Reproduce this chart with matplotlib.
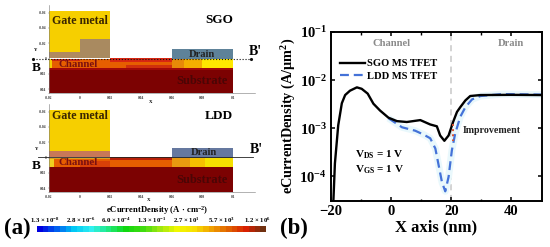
import numpy as np
import matplotlib
matplotlib.use("Agg")
import matplotlib.pyplot as plt
from matplotlib.patches import Rectangle
from matplotlib.colors import LinearSegmentedColormap, LogNorm
from matplotlib.ticker import NullLocator

plt.rcParams['font.family'] = 'Liberation Serif'
plt.rcParams['font.weight'] = 'bold'
plt.rcParams['axes.labelweight'] = 'bold'
plt.rcParams['mathtext.fontset'] = 'custom'
plt.rcParams['mathtext.rm'] = 'Liberation Serif:bold'
plt.rcParams['mathtext.it'] = 'Liberation Serif:bold'
plt.rcParams['mathtext.bf'] = 'Liberation Serif:bold'
plt.rcParams['mathtext.default'] = 'rm'

W, H = 550, 247

# Panel (b) data
x_sgo = [-19.2, -18.7, -17.6, -16.4, -15.3, -13.7, -11.4, -9.8, -7.8, -5.9, -3.7, -0.9, 1.9, 5.2, 9.7, 13,
         15.2, 16.3, 17.7, 19.1, 20.6, 21.9, 23, 24.7, 26.3, 29.7, 40, 50]
y_sgo = [3.16e-5, 1.86e-4, 1.15e-3, 3.31e-3, 4.9e-3, 6.03e-3, 7.08e-3, 6.61e-3, 5.25e-3, 3.24e-3, 2.34e-3,
         1.66e-3, 1.41e-3, 1.35e-3, 1.48e-3, 1.2e-3, 1.1e-3, 7.08e-4, 5.5e-4, 7.08e-4, 1.35e-3, 2.19e-3,
         2.75e-3, 3.8e-3, 4.68e-3, 4.9e-3, 4.95e-3, 4.9e-3]
x_ldd = [-0.9, 3.6, 8, 10.8, 13, 14.7, 15.8, 16.9, 18, 19.1, 20.2, 21.3, 23, 24.7, 26.9, 29.7, 36.9, 50]
y_ldd = [1.62e-3, 1.05e-3, 8.9e-4, 7.4e-4, 6.2e-4, 3.8e-4, 1.7e-4, 7.6e-5, 4.9e-5, 9.8e-5, 3.5e-4, 7.8e-4,
         1.74e-3, 2.75e-3, 3.98e-3, 4.68e-3, 5.13e-3, 5.01e-3]
x_ticks = [-20, 0, 20, 40]
x_minor = [-10, 10, 30]
y_ticks = [1e-4, 1e-3, 1e-2, 1e-1]
y_ticklabels = [r'10$^{-4}$', r'10$^{-3}$', r'10$^{-2}$', r'10$^{-1}$']
x_divider = 19.9
improve_x = 20.6
improve_y = [1.25e-3, 5.5e-4]

# Panel (a) data: regions as (x0, x1, y0, y1, colour), micrometres
gate_top = [(-0.02, 0.02, -0.062, -0.001, '#F6CF00'),
            (0.0, 0.02, -0.026, -0.001, '#A98A60'),
            (-0.02, 0.0, -0.009, -0.001, '#B08A60'),
            (-0.02, 0.06, 0.0, 0.0125, '#E65E00'),
            (-0.02, -0.018, 0.0, 0.0125, '#F6D000'),
            (-0.018, 0.0, 0.0, 0.003, '#D02A10'),
            (0.02, 0.06, -0.001, 0.004, '#D82612'),
            (0.03, 0.06, 0.009, 0.0125, '#D0300C'),
            (0.06, 0.1, 0.0, 0.0125, '#FFE800'),
            (0.06, 0.068, 0.0, 0.0125, '#E88A08'),
            (0.068, 0.08, 0.0, 0.0125, '#F5AE00'),
            (-0.02, 0.1, 0.0125, 0.045, '#7C0202'),
            (-0.02, 0.1, 0.0125, 0.015, '#A00808'),
            (0.06, 0.1, -0.012, 0.0, '#5E8299')]
gate_bottom = [(-0.02, 0.02, -0.062, -0.008, '#F6CF00'),
               (-0.02, 0.02, -0.008, -0.001, '#C87858'),
               (-0.02, 0.06, 0.0, 0.0125, '#E65E00'),
               (-0.02, -0.017, 0.0, 0.0125, '#F0D020'),
               (-0.02, 0.02, 0.0, 0.0025, '#D8A020'),
               (0.02, 0.06, -0.001, 0.003, '#B82008'),
               (0.0, 0.02, 0.005, 0.0125, '#D84008'),
               (0.06, 0.1, 0.0, 0.0125, '#F5E000'),
               (0.06, 0.072, 0.0, 0.0125, '#E89A10'),
               (0.072, 0.082, 0.0, 0.0125, '#F5C000'),
               (-0.02, 0.1, 0.0125, 0.045, '#7C0202'),
               (0.06, 0.1, -0.012, 0.0, '#65789F')]
dev_xticks = [-0.02, 0, 0.02, 0.04, 0.06, 0.08, 0.1]
dev_xlabels = ['-0.02', '0', '0.02', '0.04', '0.06', '0.08', '0.1']
dev_yticks = [-0.06, -0.04, -0.02, 0, 0.02, 0.04]
dev_ylabels = ['-0.06', '-0.04', '-0.02', '0', '0.02', '0.04']

# Colourbar
cb_ticks = [1.3e-8, 2.8e-6, 6.0e-4, 1.3e-1, 2.7e1, 5.7e3, 1.2e6]
cb_labels = [r'1.3 × 10$^{-8}$', r'2.8 × 10$^{-6}$', r'6.0 × 10$^{-4}$', r'1.3 × 10$^{-1}$',
             r'2.7 × 10$^{1}$', r'5.7 × 10$^{3}$', r'1.2 × 10$^{6}$']
cb_colors = ['#0000E0', '#0060F0', '#00C8F5', '#30F0F0', '#20E880', '#10D810', '#40DC10', '#A0E810',
             '#F0F800', '#F8E000', '#F0A000', '#E06000', '#D82000', '#703010']


def axpx(l, t, r, b):
    return fig.add_axes([l / W, 1 - b / H, (r - l) / W, (b - t) / H])


fig = plt.figure(figsize=(W / 100, H / 100), dpi=100)


def device(top_px, bottom_px, regions):
    ax = axpx(49, top_px, 255, bottom_px)
    ax.set_xlim(-0.02, 0.1145)
    ax.set_ylim(0.045, 0.045 - (bottom_px - top_px) / 765)
    for x0, x1, y0, y1, c in regions:
        ax.add_patch(Rectangle((x0, y0), x1 - x0, y1 - y0, fc=c, ec='none', zorder=2))
    ax.spines[['top', 'right']].set_visible(False)
    for s in ('left', 'bottom'):
        ax.spines[s].set_linewidth(0.4)
        ax.spines[s].set_color('#777777')
    ax.set_xticks(dev_xticks, dev_xlabels)
    ax.set_yticks(dev_yticks, dev_ylabels)
    ax.tick_params(labelsize=2.6, length=1, width=0.3, pad=1, color='#666666', labelcolor='#333333')
    ax.patch.set_alpha(0)
    return ax


ax1 = device(5, 93, gate_top)
ax2 = device(104, 192, gate_bottom)

axo = fig.add_axes([0, 0, 1, 1], zorder=5)
axo.set_xlim(0, W)
axo.set_ylim(H, 0)
axo.axis('off')
axo.patch.set_alpha(0)


def T(x, y, s, size, color='black', ha='center', **kw):
    axo.text(x, y, s, fontsize=size, color=color, ha=ha, va='center', **kw)


T(80, 21, 'Gate metal', 8.6, '#3A2600')
T(80, 116, 'Gate metal', 8.6, '#3A2600')
T(78.5, 64.5, 'Channel', 7.8, '#7A1010')
T(78.5, 162, 'Channel', 7.8, '#7A1010')
T(202, 54, 'Drain', 7.6, '#222222')
T(204, 152, 'Drain', 7.6, '#222222')
T(202, 81, 'Substrate', 9, '#4A0505')
T(202, 180, 'Substrate', 9, '#4A0505')
T(219, 20, 'SGO', 9.5)
T(219, 116, 'LDD', 9.5)
T(36, 68, 'B', 9.5)
T(36, 166, 'B', 9.5)
T(255, 51, "B'", 10)
T(256, 149, "B'", 10)
T(36, 50, 'Y', 3.5)
T(37, 149, 'Y', 3.5)
T(151, 101.5, 'X', 3.5)
T(149, 200, 'X', 3.5)
axo.plot([33, 251], [59, 59], ls=':', lw=0.8, color='#111111')
axo.plot([251, 33], [59, 59], ls='None', marker='.', ms=2.5, color='#111111')
axo.plot([38, 253], [156.7, 156.7], lw=0.6, color='#222222')

T(157, 210.5, r'eCurrentDensity (A · cm$^{-2}$)', 6.2)
T(17, 228, '(a)', 16.5)
T(294, 228, '(b)', 16.5)

# Colourbar
axc = axpx(37, 226, 266, 232)
cmap = LinearSegmentedColormap.from_list('cb', cb_colors, N=40)
lo, hi = cb_ticks[0] * 10 ** (-8 / 15.14), cb_ticks[-1] * 10 ** (9 / 15.14)
edges = np.logspace(np.log10(lo), np.log10(hi), 41)
centres = np.sqrt(edges[:-1] * edges[1:])
axc.pcolormesh(edges, [0, 1], centres[None, :], cmap=cmap, norm=LogNorm(lo, hi))
axc.set_xscale('log')
axc.set_xlim(lo, hi)
axc.set_yticks([])
axc.minorticks_off()
axc.set_xticks(cb_ticks, cb_labels)
axc.xaxis.set_ticks_position('top')
axc.tick_params(axis='x', which='both', length=0, pad=0.6, labelsize=4.9)
for s in axc.spines.values():
    s.set_visible(False)

# Panel (b)
axb = axpx(331, 32, 541.5, 200.5)
axb.set_xlim(-20, 50)
axb.set_yscale('log')
axb.set_ylim(10 ** -4.5, 1e-1)
axb.axvline(x_divider, color='#C8C8C8', ls=(0, (4, 3)), lw=1.1, zorder=1)
axb.plot(x_ldd, y_ldd, color='#E9F8FC', lw=5, zorder=1, solid_capstyle='butt')
axb.plot(x_sgo, y_sgo, color='black', lw=1.7, label='SGO MS TFET', zorder=3)
axb.plot(x_ldd, y_ldd, color='#4472D8', lw=1.6, ls=(0, (4, 2.2)), label='LDD MS TFET', zorder=2)
axb.plot([improve_x, improve_x], improve_y, color='#D85030', lw=1.4, ls=':', zorder=4)
axb.set_xticks(x_ticks)
axb.set_xticks(x_minor, minor=True)
axb.set_yticks(y_ticks, y_ticklabels)
axb.yaxis.set_minor_locator(NullLocator())
axb.tick_params(axis='both', which='major', direction='in', top=True, right=True, length=3, width=1.1,
                labelsize=10.5, pad=3)
axb.tick_params(axis='x', which='minor', direction='in', top=True, length=1.8, width=1)
for s in axb.spines.values():
    s.set_linewidth(1.4)
axb.set_xlabel('X axis (nm)', fontsize=12, labelpad=1)
axb.set_ylabel('eCurrentDensity (A/µm$^{2}$)', fontsize=10.3, labelpad=1)
axb.yaxis.set_label_coords(-0.157, 0.505)
axb.legend(loc='upper left', bbox_to_anchor=(0.043, 0.84), frameon=False, fontsize=7.6, handlelength=2.4,
           handletextpad=0.15, labelspacing=0.3, borderpad=0, borderaxespad=0)

T(392, 43, 'Channel', 7.6, '#8A8A8A')
T(511, 43, 'Drain', 7.6, '#8A8A8A')
T(492, 130, 'Improvement', 7.2, '#222222')
T(379, 155, r'V$_{DS}$ = 1 V', 8)
T(379, 170, r'V$_{GS}$ = 1 V', 8)

fig.savefig('out.png', dpi=100)
